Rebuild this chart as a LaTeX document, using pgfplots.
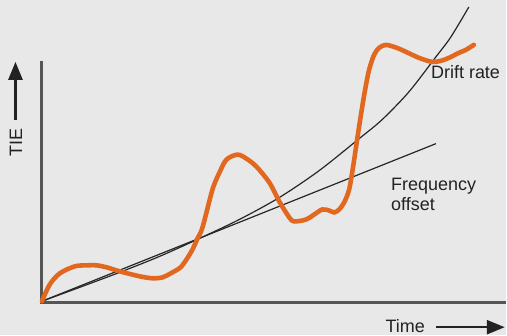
\documentclass[border=0pt]{standalone}
\usepackage{pgfplots}
\pgfplotsset{compat=1.18}
\usepackage{fontspec}
\setmainfont{Liberation Sans}
\usetikzlibrary{arrows.meta}
\definecolor{bg}{RGB}{232,232,232}
\definecolor{orangeline}{RGB}{226,104,32}
\definecolor{axisgray}{RGB}{85,85,85}
\definecolor{txt}{RGB}{34,34,34}
\begin{document}
\begin{tikzpicture}
\begin{axis}[
  x=1pt, y=1pt,
  xmin=0, xmax=507, ymin=-34, ymax=302,
  hide axis, clip=false,
]
\fill[bg] (axis cs:0,-34) rectangle (axis cs:507,302);
% axes
\draw[axisgray, line width=2.5pt] (axis cs:41.5,241) -- (axis cs:41.5,-1);
\draw[axisgray, line width=2.5pt] (axis cs:40.5,-1) -- (axis cs:507,-1);
% frequency offset line
\addplot[black!85, line width=1.2pt] coordinates {(42,0) (437,158)};
% drift rate curve
\addplot[black!85, line width=1.2pt, smooth] coordinates {
(42,0) (80,14) (120,29) (160,45) (200,63) (240,82) (280,104) (320,131)
(360,163) (383,182) (410,210) (437,245) (450,262) (460,278) (470,295)};
% TIE
\addplot[orangeline, line width=4.6pt, smooth, line cap=round] coordinates {
(42,0) (50,17) (60,28) (75,35) (87,36) (97,36) (107,34)
(120,30) (140,25) (153,23) (163,24) (173,29) (181,34) (187,42) (193,52)
(198,63) (203,74) (213,112) (220,129) (227,142) (238,147) (247,143)
(257,135) (270,119) (280,100) (290,84) (295,80) (307,82) (315,87)
(323,92) (330,91) (335,89) (340,92) (345,99) (350,112) (354,135)
(358,162) (362,188) (366,212) (370,232) (375,247)
(380,254) (387,257) (398,254) (407,250) (420,244) (433,240)
(442,241) (450,244) (460,249) (467,252) (475,257)};
% labels
\node[txt, rotate=90, font=\fontsize{18}{20}\selectfont] at (axis cs:16,159) {TIE};
\draw[txt, line width=2.5pt, -{Triangle[length=18pt,width=14pt]}] (axis cs:15.5,182) -- (axis cs:15.5,240);
\node[txt, font=\fontsize{18}{20}\selectfont, anchor=base west] at (axis cs:383,-31) {Time};
\draw[txt, line width=2.5pt, -{Triangle[length=18pt,width=14pt]}] (axis cs:437,-26) -- (axis cs:506,-26);
\node[txt, font=\fontsize{18}{20}\selectfont, anchor=west, inner sep=0pt] at (axis cs:432,230) {Drift rate};
\node[txt, font=\fontsize{18}{20}\selectfont, anchor=north west, inner sep=0pt, align=left] at (axis cs:392,124) {Frequency\\offset};
\end{axis}
\end{tikzpicture}
\end{document}
